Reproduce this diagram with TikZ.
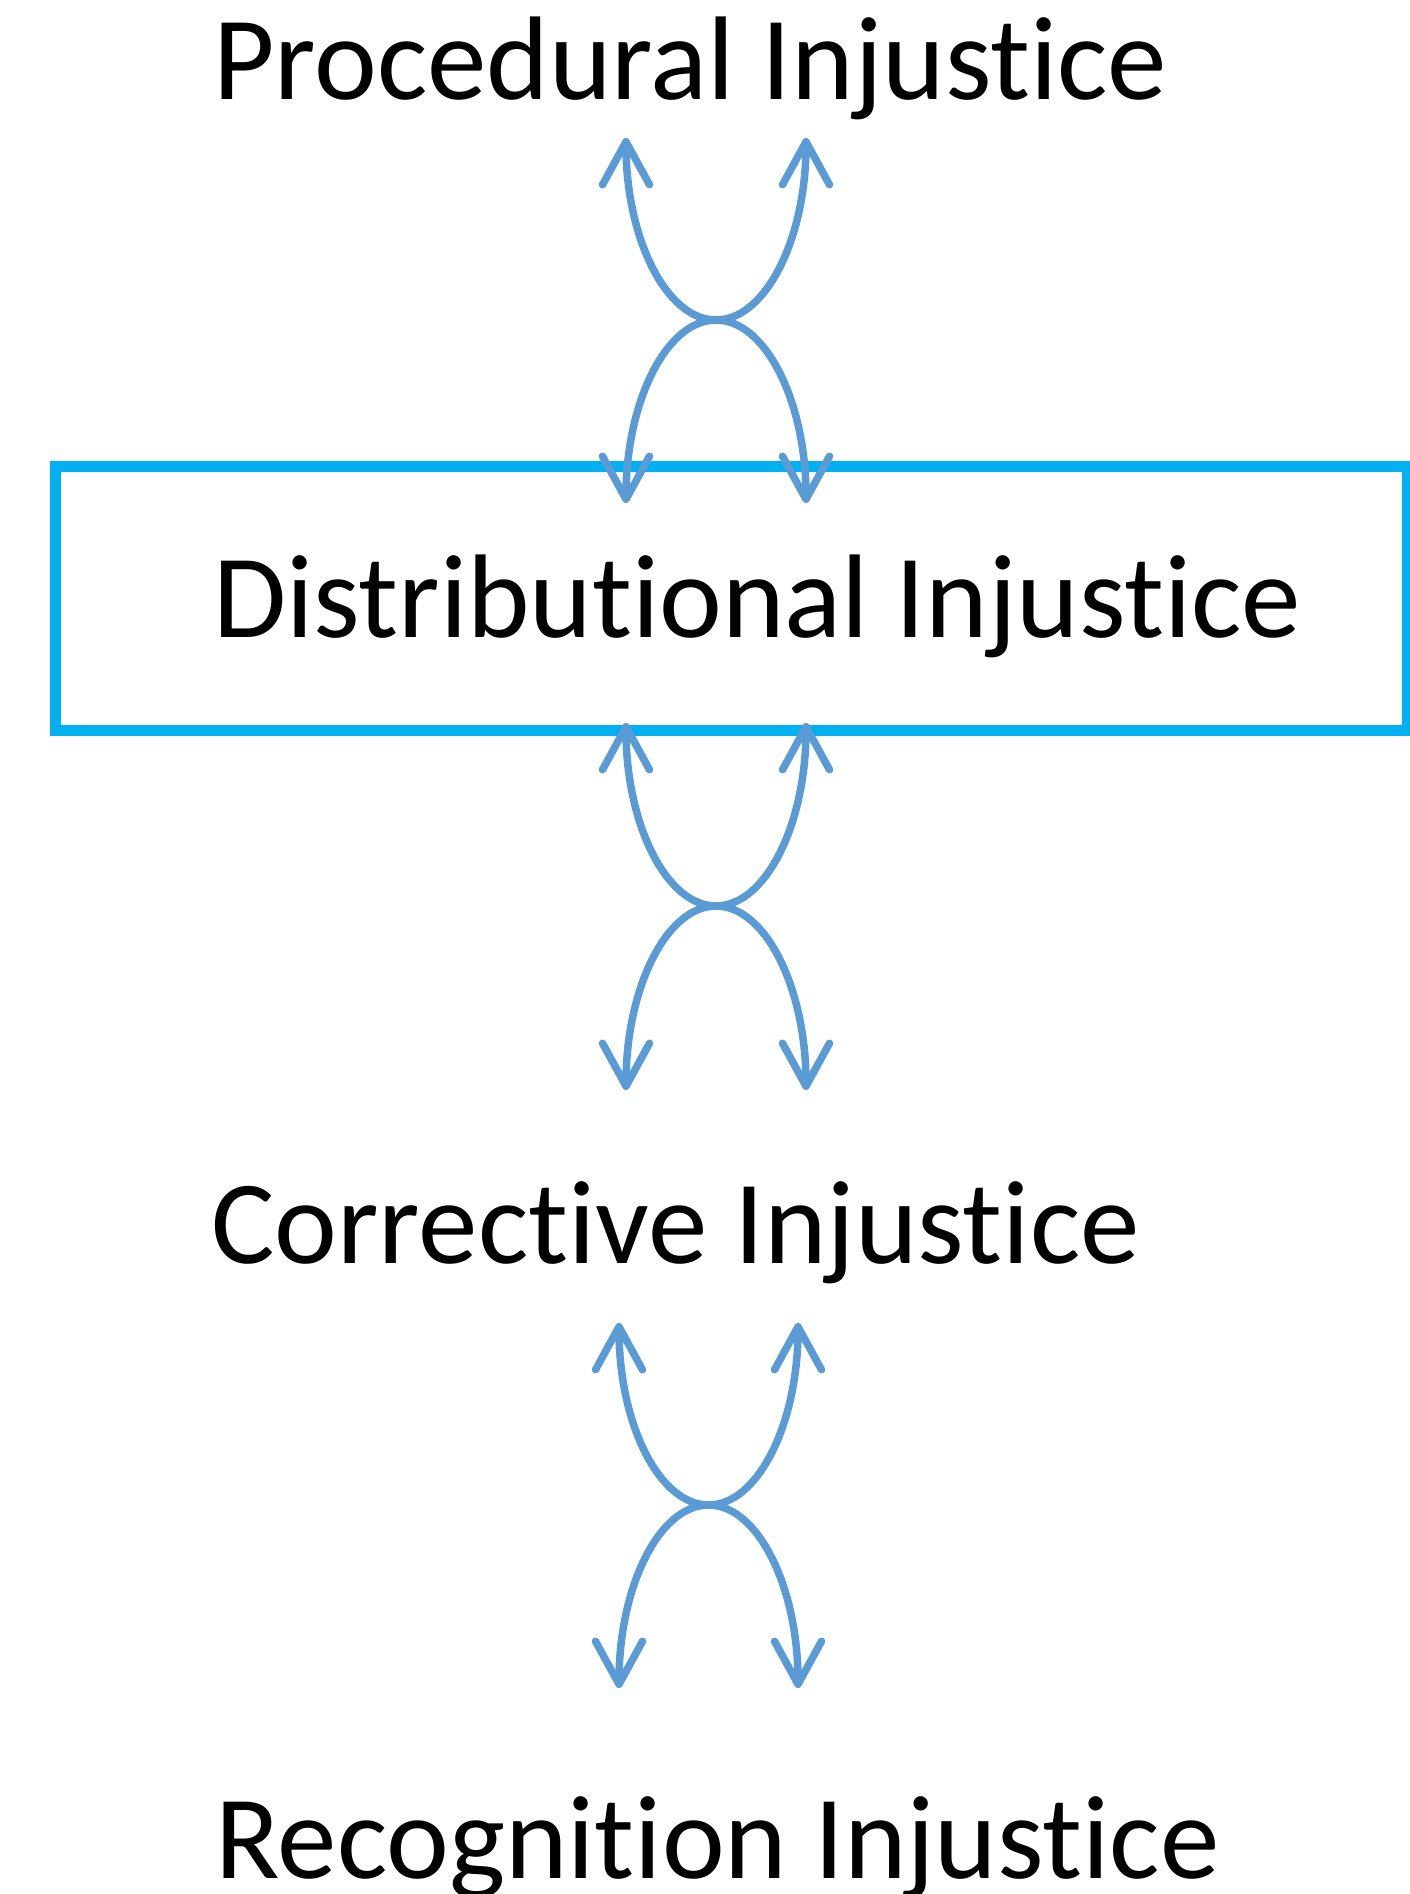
\documentclass[tikz,border=0pt]{standalone}
\usepackage{fontspec}
\setmainfont[Ligatures={NoCommon}]{Carlito}
\usetikzlibrary{arrows.meta}
\definecolor{arrowblue}{HTML}{5B9BD5}
\definecolor{boxblue}{HTML}{00B0F0}
\begin{document}
\begin{tikzpicture}[x=1pt,y=-1pt,
  label/.style={anchor=base west, inner sep=0pt, font=\fontsize{119}{130}\selectfont, text=black},
  arr/.style={draw=arrowblue, line width=7.5pt, line cap=round, line join=round,
    {Straight Barb[length=43pt, width=47pt, round]}-{Straight Barb[length=43pt, width=47pt, round]}},
  boxline/.style={draw=boxblue, line width=11pt}]
\useasboundingbox (0,0) rectangle (1409,1894);
% texts
\node[label] (proc) at (213,100) {Procedural Injustice};
\node[label] (dist) at (213,637) {Distributional Injustice};
\node[label] (corr) at (211,1263) {Corrective Injustice};
\node[label] (reco) at (215,1878) {Recognition Injustice};
% box
\draw[boxline] (55.5,466.5) rectangle (1407.5,730.5);
% arrow set 1
\coordinate (a1tl) at (626,138);
\coordinate (a1bl) at (626,503);
\draw[arr] (a1tl) arc[start angle=180, end angle=0, x radius=90, y radius=182];
\draw[arr] (a1bl) arc[start angle=180, end angle=360, x radius=90, y radius=183];
% arrow set 2
\coordinate (a2tl) at (626,723);
\coordinate (a2bl) at (626,1090);
\draw[arr] (a2tl) arc[start angle=180, end angle=0, x radius=90, y radius=183];
\draw[arr] (a2bl) arc[start angle=180, end angle=360, x radius=90, y radius=184];
% arrow set 3
\coordinate (a3tl) at (619,1323);
\coordinate (a3bl) at (619,1688);
\draw[arr] (a3tl) arc[start angle=180, end angle=0, x radius=89.5, y radius=182];
\draw[arr] (a3bl) arc[start angle=180, end angle=360, x radius=89.5, y radius=183];
\end{tikzpicture}
\end{document}
